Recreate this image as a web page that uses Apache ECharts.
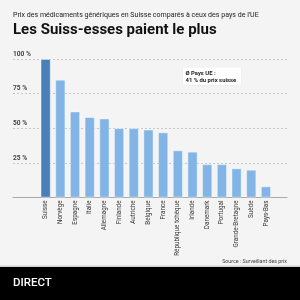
<!DOCTYPE html>
<html>
<head>
<meta charset="utf-8">
<script src="https://cdn.jsdelivr.net/npm/echarts@6/dist/echarts.min.js"></script>
<style>
  html, body { margin: 0; padding: 0; background: #f4f4f4; }
  #chart { width: 300px; height: 300px; }
</style>
</head>
<body>
<div id="chart"></div>
<script>
// pays comparés (prix en % du prix suisse)
const countries = ['Suisse', 'Norvège', 'Espagne', 'Italie', 'Allemagne', 'Finlande', 'Autriche', 'Belgique',
  'France', 'République tchèque', 'Irlande', 'Danemark', 'Portugal', 'Grande-Bretagne', 'Suède', 'Pays-Bas']
const prices = [100, 85, 62, 58, 57, 50, 50, 49, 47, 34, 33, 24, 24, 21, 20, 8]
const yTicks = [0, 25, 50, 75, 100]

const chart = echarts.init(document.getElementById('chart'))
const font = 'Roboto, "Noto Sans", sans-serif'

const option = {
  backgroundColor: '#f4f4f4',
  animation: false,
  textStyle: { fontFamily: font },
  title: [
    {
      text: 'Prix des médicaments génériques en Suisse comparés à ceux des pays de l\'UE',
      left: 13, top: 12, padding: 0,
      textStyle: { fontSize: 7.05, fontWeight: 'normal', color: '#222', fontFamily: font }
    },
    {
      text: 'Les Suiss-esses paient le plus',
      left: 13, top: 22.5, padding: 0,
      textStyle: { fontSize: 15, fontWeight: 'bold', color: '#111', fontFamily: font }
    },
    {
      text: 'Source : Surveillant des prix',
      right: 13, top: 259.5, padding: 0,
      textStyle: { fontSize: 5.3, fontWeight: 'normal', color: '#444', fontFamily: font }
    }
  ],
  graphic: [
    { type: 'rect', left: 0, top: 265.5, shape: { width: 300, height: 2 }, style: { fill: '#d0d0d0' } },
    { type: 'rect', left: 0, top: 267, shape: { width: 300, height: 33 }, style: { fill: '#000' } },
    { type: 'text', left: 13, top: 277, style: { text: 'DIRECT', fill: '#fff', font: '500 11.5px ' + font } },
    {
      type: 'rect', left: 183, top: 67.5,
      shape: { width: 58, height: 17.5 },
      style: { fill: '#fff', shadowBlur: 2, shadowColor: 'rgba(0,0,0,0.08)' }
    },
    {
      type: 'text', left: 185.5, top: 70,
      style: { text: 'Ø Pays UE :\n41 % du prix suisse', fill: '#222', font: 'bold 5.9px ' + font, lineHeight: 7 }
    }
  ],
  grid: [
    { left: 13, right: 13, top: 59, bottom: 102.5 },
    { left: 38.3, right: 26.7, top: 59, bottom: 102.5 }
  ],
  xAxis: [
    {
      gridIndex: 0, type: 'category', data: [''],
      axisLine: { lineStyle: { color: '#aaa', width: 1 } },
      axisTick: { show: false }, axisLabel: { show: false }
    },
    {
      gridIndex: 1, type: 'category', data: countries,
      axisLine: { show: false }, axisTick: { show: false },
      axisLabel: { rotate: 90, fontSize: 6.3, color: '#333', margin: 3, interval: 0, fontFamily: font }
    }
  ],
  yAxis: [
    {
      gridIndex: 0, type: 'value', min: 0, max: 100, interval: 25,
      axisLine: { show: false }, axisTick: { show: false },
      splitLine: { lineStyle: { color: '#c8c8c8', type: [2, 2], width: 1 } },
      axisLabel: {
        inside: true, margin: 0, align: 'left', verticalAlign: 'bottom',
        fontSize: 6.6, fontWeight: 'bold', color: '#444', padding: [0, 0, 1.5, 0],
        formatter: v => (yTicks.includes(v) && v > 0) ? v + ' %' : ''
      }
    },
    {
      gridIndex: 1, type: 'value', min: 0, max: 100, interval: 25,
      show: false, splitLine: { show: false }
    }
  ],
  series: [
    {
      type: 'bar', xAxisIndex: 1, yAxisIndex: 1,
      barWidth: 10,
      data: prices.map((v, i) => ({
        value: v,
        itemStyle: { color: i === 0 ? '#4a80b9' : '#82b5e5' }
      })),
      itemStyle: { borderColor: 'rgba(255,255,255,0.5)', borderWidth: 0.8 }
    }
  ]
}

chart.setOption(option)
</script>
</body>
</html>
